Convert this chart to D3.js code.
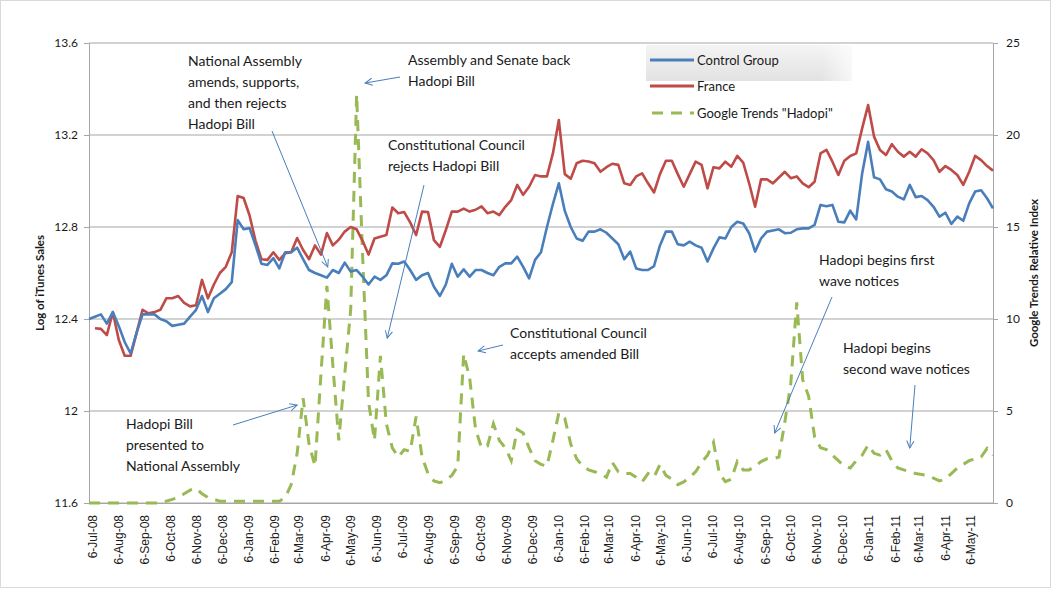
<!DOCTYPE html>
<html><head><meta charset="utf-8">
<script src="https://cdn.jsdelivr.net/npm/d3@7"></script>
<style>
body{margin:0;background:#fff}
text{font-family:Lato,"Open Sans","Liberation Sans",sans-serif;fill:#1a1a1a}
</style>
</head><body>
<svg id="chart" width="1052" height="590"></svg>
<script>
// ---------------- data ----------------
const firstWeek = "2008-07-06";           // weekly observations start here
const controlGroup = [
 12.40,12.41,12.42,12.38,12.43,12.37,12.30,12.25,12.34,12.42,
 12.42,12.42,12.40,12.39,12.37,12.375,12.38,12.41,12.44,12.50,
 12.43,12.49,12.51,12.53,12.56,12.83,12.79,12.795,12.72,12.64,
 12.635,12.665,12.62,12.69,12.69,12.71,12.66,12.613,12.60,12.59,
 12.58,12.613,12.60,12.645,12.606,12.613,12.584,12.55,12.584,12.57,
 12.59,12.642,12.64,12.65,12.613,12.57,12.59,12.60,12.54,12.50,
 12.55,12.64,12.584,12.616,12.584,12.613,12.613,12.60,12.59,12.627,
 12.642,12.642,12.671,12.627,12.577,12.657,12.69,12.80,12.90,12.99,
 12.87,12.80,12.75,12.74,12.78,12.78,12.79,12.775,12.75,12.725,
 12.66,12.693,12.62,12.613,12.613,12.63,12.72,12.78,12.78,12.725,
 12.72,12.736,12.72,12.71,12.65,12.707,12.755,12.75,12.80,12.823,
 12.815,12.773,12.693,12.75,12.78,12.785,12.79,12.773,12.775,12.79,
 12.794,12.794,12.809,12.896,12.89,12.896,12.823,12.82,12.871,12.833,
 13.033,13.17,13.016,13.007,12.964,12.954,12.932,12.92,12.983,12.93,
 12.935,12.917,12.888,12.845,12.862,12.813,12.845,12.827,12.903,12.954,
 12.96,12.925,12.881
];
const france = [
 null,12.36,12.357,12.33,12.43,12.31,12.24,12.24,12.34,12.44,
 12.425,12.43,12.44,12.49,12.49,12.50,12.47,12.455,12.46,12.57,
 12.49,12.55,12.60,12.627,12.69,12.935,12.926,12.85,12.74,12.66,
 12.657,12.69,12.657,12.686,12.69,12.752,12.70,12.66,12.72,12.68,
 12.774,12.72,12.745,12.78,12.80,12.79,12.74,12.68,12.75,12.758,
 12.765,12.885,12.86,12.865,12.82,12.765,12.867,12.865,12.743,12.714,
 12.787,12.867,12.867,12.88,12.867,12.875,12.89,12.86,12.867,12.852,
 12.888,12.917,12.983,12.94,12.975,13.026,13.02,13.02,13.12,13.265,
 13.03,13.01,13.077,13.088,13.085,13.077,13.04,13.06,13.075,13.07,
 12.99,12.983,13.02,13.033,12.99,12.95,13.03,13.088,13.088,13.03,
 12.975,13.03,13.084,13.07,12.968,13.06,13.055,13.084,13.062,13.109,
 13.08,12.99,12.888,13.007,13.007,12.99,13.015,13.04,13.012,13.02,
 12.99,12.973,12.997,13.12,13.135,13.084,13.026,13.088,13.109,13.12,
 13.229,13.33,13.193,13.135,13.113,13.16,13.127,13.106,13.127,13.106,
 13.138,13.12,13.091,13.04,13.065,13.048,13.026,12.983,13.04,13.109,
 13.091,13.065,13.045
];
const hadopiTrends = [
 0,0,0,0,0,0,0,0,0,0,0,0,0,
 0.1,0.2,0.3,0.5,0.7,0.8,0.5,0.3,0.2,0.1,
 0.1,0.1,0.1,0.1,0.1,0.1,0.1,0.1,0.1,0.1,
 0.3,1.0,2.7,5.7,3.2,2.0,7.0,11.8,7.5,3.4,
 7.0,10.5,22.2,13.5,5.5,3.4,8.0,4.3,3.0,2.5,
 2.9,2.8,4.7,2.5,1.6,1.2,1.1,1.25,1.5,2.0,
 8.1,6.8,4.0,3.0,3.1,4.3,3.4,3.0,2.3,4.0,
 3.8,3.0,2.3,2.1,2.0,3.4,4.9,4.6,3.2,2.4,
 2.0,1.8,1.7,1.6,1.4,2.2,1.7,1.6,1.6,1.4,
 1.15,1.6,1.4,2.1,1.5,1.3,1.0,1.15,1.4,1.7,
 2.2,2.6,3.3,1.6,1.16,1.3,2.25,1.8,1.8,2.0,
 2.25,2.4,2.4,2.5,4.4,6.5,10.9,6.7,5.8,3.6,
 3.0,2.9,2.6,2.3,2.0,1.9,2.3,2.6,3.15,2.7,
 2.6,2.9,2.3,1.9,1.8,1.7,1.6,1.55,1.5,1.35,
 1.2,1.3,1.6,1.9,2.1,2.3,2.4,2.5,2.97,2.6
];
const monthLabels = [
 "6-Jul-08","6-Aug-08","6-Sep-08","6-Oct-08","6-Nov-08","6-Dec-08",
 "6-Jan-09","6-Feb-09","6-Mar-09","6-Apr-09","6-May-09","6-Jun-09",
 "6-Jul-09","6-Aug-09","6-Sep-09","6-Oct-09","6-Nov-09","6-Dec-09",
 "6-Jan-10","6-Feb-10","6-Mar-10","6-Apr-10","6-May-10","6-Jun-10",
 "6-Jul-10","6-Aug-10","6-Sep-10","6-Oct-10","6-Nov-10","6-Dec-10",
 "6-Jan-11","6-Feb-11","6-Mar-11","6-Apr-11","6-May-11"
];
const leftTicks = [11.6, 12, 12.4, 12.8, 13.2, 13.6];
const rightTicks = [0, 5, 10, 15, 20, 25];
const seriesNames = ["Control Group", "France", "Google Trends \"Hadopi\""];
const annotations = [
 {lines:["National Assembly","amends, supports,","and then rejects","Hadopi Bill"], date:"2009-04-13", value:12.626},
 {lines:["Assembly and Senate back","Hadopi Bill"], date:"2009-05-27", value:13.426},
 {lines:["Constitutional Council","rejects Hadopi Bill"], date:"2009-06-22", value:12.317},
 {lines:["Constitutional Council","accepts amended Bill"], date:"2009-10-07", value:12.261},
 {lines:["Hadopi Bill","presented to","National Assembly"], date:"2009-03-08", value:12.026},
 {lines:["Hadopi begins first","wave notices"], date:"2010-09-21", value:11.904},
 {lines:["Hadopi begins","second wave notices"], date:"2011-02-27", value:11.839}
];

// ---------------- layout ----------------
const L = 89, R = 993, T = 43, B = 503;
const colors = {blue:"#4a7ebb", red:"#be4b48", green:"#98b954", grid:"#a6a6a6"};
// annotation layout: text anchor (left, first baseline) and arrow start
const annLayout = [
 {tx:188, ty:66, ax:272, ay:131},
 {tx:408, ty:65, ax:400, ay:77},
 {tx:388, ty:150, ax:424, ay:185},
 {tx:510, ty:338, ax:503, ay:345},
 {tx:126, ty:429, ax:233, ay:425},
 {tx:819, ty:265, ax:832, ay:297},
 {tx:843, ty:353, ax:915, ay:385}
];

const svg = d3.select("#chart");
const parse = d3.timeParse("%Y-%m-%d");
const labelParse = d3.timeParse("%d-%b-%y");
const start = parse(firstWeek);
const dates = controlGroup.map((_, i) => d3.timeDay.offset(start, 7 * i));
const x = d3.scaleTime().domain([dates[0], dates[dates.length - 1]]).range([L, R]);
const yL = d3.scaleLinear().domain([11.6, 13.6]).range([B, T]);
const yR = d3.scaleLinear().domain([0, 25]).range([B, T]);

// outer border
svg.append("rect").attr("x",0.5).attr("y",0.5).attr("width",1050).attr("height",587)
  .attr("fill","#fff").attr("stroke","#d9d9d9");

// gridlines
svg.append("g").selectAll("line").data(leftTicks).join("line")
  .attr("x1", L).attr("x2", R).attr("y1", d => yL(d)).attr("y2", d => yL(d))
  .attr("stroke", colors.grid).attr("stroke-width", 1);

// left axis
const gL = svg.append("g").attr("transform", `translate(${L},0)`)
  .call(d3.axisLeft(yL).tickValues(leftTicks).tickFormat(d3.format("")).tickSize(5).tickPadding(6));
gL.selectAll("path,line").attr("stroke", colors.grid);
gL.selectAll("text").attr("font-size", 12).attr("fill","#1a1a1a").style("font-family","Lato,sans-serif");

// right axis
const gR = svg.append("g").attr("transform", `translate(${R},0)`)
  .call(d3.axisRight(yR).tickValues(rightTicks).tickFormat(d3.format("d")).tickSize(5).tickPadding(8));
gR.selectAll("path,line").attr("stroke", colors.grid);
gR.selectAll("text").attr("font-size", 12).attr("fill","#1a1a1a").style("font-family","Lato,sans-serif");

// bottom axis
const monthDates = monthLabels.map(s => labelParse(s));
const gB = svg.append("g").attr("transform", `translate(0,${B})`)
  .call(d3.axisBottom(x).tickValues(monthDates).tickFormat((d, i) => monthLabels[i]).tickSize(0));
gB.select("path").attr("stroke", colors.grid);
gB.selectAll(".tick text")
  .attr("font-size", 12).attr("fill","#1a1a1a").style("font-family","'Liberation Sans',Arial,sans-serif")
  .attr("text-anchor", "end").attr("x", 0).attr("y", 0).attr("dy", "0.35em")
  .attr("transform", "translate(3,12) rotate(-90)");

// axis titles
svg.append("text").attr("transform", `translate(44,${(T+B)/2 + 10}) rotate(-90)`)
  .attr("text-anchor","middle").attr("font-size",11.5).attr("font-weight","bold")
  .text("Log of iTunes Sales");
svg.append("text").attr("transform", `translate(1038,${(T+B)/2}) rotate(-90)`)
  .attr("text-anchor","middle").attr("font-size",11.5).attr("font-weight","bold")
  .text("Google Trends Relative Index");

// lines
const lineL = d3.line().defined(d => d[1] != null).x(d => x(d[0])).y(d => yL(d[1]));
const lineR = d3.line().x(d => x(d[0])).y(d => yR(d[1]));
svg.append("path").datum(dates.map((d, i) => [d, hadopiTrends[i]]))
  .attr("d", lineR).attr("fill","none").attr("stroke", colors.green)
  .attr("stroke-width", 3).attr("stroke-dasharray","11,8");
svg.append("path").datum(dates.map((d, i) => [d, france[i]]))
  .attr("d", lineL).attr("fill","none").attr("stroke", colors.red)
  .attr("stroke-width", 2.6).attr("stroke-linejoin","round");
svg.append("path").datum(dates.map((d, i) => [d, controlGroup[i]]))
  .attr("d", lineL).attr("fill","none").attr("stroke", colors.blue)
  .attr("stroke-width", 2.6).attr("stroke-linejoin","round");

// legend
const defs = svg.append("defs");
const grad = defs.append("linearGradient").attr("id","lg").attr("x1",0).attr("y1",0).attr("x2",0).attr("y2",1);
grad.append("stop").attr("offset","0%").attr("stop-color","#f4f4f4");
grad.append("stop").attr("offset","100%").attr("stop-color","#e2e2e2");
const gradH = defs.append("linearGradient").attr("id","lgm").attr("x1",0).attr("y1",0).attr("x2",1).attr("y2",0);
gradH.append("stop").attr("offset","0%").attr("stop-color","#fff").attr("stop-opacity",0);
gradH.append("stop").attr("offset","85%").attr("stop-color","#fff").attr("stop-opacity",0);
gradH.append("stop").attr("offset","100%").attr("stop-color","#fff").attr("stop-opacity",0.7);
svg.append("rect").attr("x",646).attr("y",45).attr("width",206).attr("height",36).attr("fill","url(#lg)");
svg.append("rect").attr("x",646).attr("y",45).attr("width",206).attr("height",36).attr("fill","url(#lgm)");
const legendRows = [
 {name: seriesNames[0], color: colors.blue, dash: null, y: 60},
 {name: seriesNames[1], color: colors.red, dash: null, y: 86},
 {name: seriesNames[2], color: colors.green, dash: "11,8", y: 113}
];
legendRows.forEach(r => {
  svg.append("line").attr("x1", r.dash ? 652 : 650).attr("x2", 694).attr("y1", r.y).attr("y2", r.y)
    .attr("stroke", r.color).attr("stroke-width", 3).attr("stroke-dasharray", r.dash);
  svg.append("text").attr("x", 697).attr("y", r.y).attr("dy","0.35em")
    .attr("font-size", 13).text(r.name);
});

// annotations
defs.append("marker").attr("id","arr").attr("viewBox","0 0 10 10").attr("refX",9).attr("refY",5)
  .attr("markerWidth",9).attr("markerHeight",9).attr("markerUnits","userSpaceOnUse").attr("orient","auto")
  .append("path").attr("d","M1,1 L9,5 L1,9").attr("fill","none").attr("stroke",colors.blue).attr("stroke-width",1.1);
annotations.forEach((a, k) => {
  const lay = annLayout[k];
  const t = svg.append("text").attr("x", lay.tx).attr("y", lay.ty).attr("font-size", 14);
  a.lines.forEach((ln, j) => t.append("tspan").attr("x", lay.tx).attr("dy", j ? 21 : 0).text(ln));
  svg.append("line").attr("x1", lay.ax).attr("y1", lay.ay)
    .attr("x2", x(parse(a.date))).attr("y2", yL(a.value))
    .attr("stroke", colors.blue).attr("stroke-width", 1).attr("marker-end","url(#arr)");
});
</script>
</body></html>
